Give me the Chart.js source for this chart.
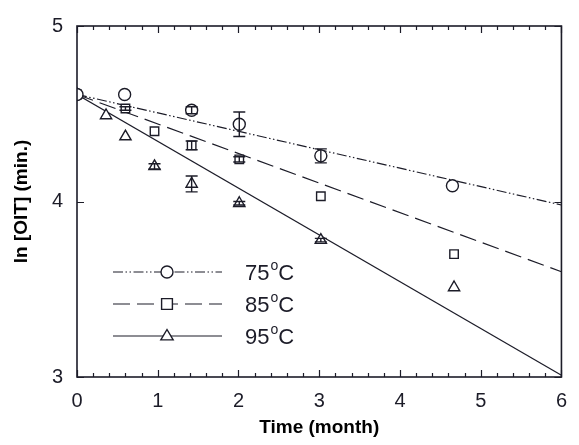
<!DOCTYPE html>
<html>
<head>
<meta charset="utf-8">
<script src="https://cdn.jsdelivr.net/npm/chart.js@4.4.0/dist/chart.umd.min.js"></script>
<style>
  html, body { margin: 0; padding: 0; background: #fff; }
  #wrap { width: 579px; height: 445px; }
</style>
</head>
<body>
<div id="wrap"><canvas id="c"></canvas></div>
<script>
// ln[OIT] vs ageing time, three temperatures, with linear fits.
const t75 = [0, 0.59, 1.42, 2.01, 3.02, 4.65];
const y75 = [4.61, 4.61, 4.52, 4.44, 4.26, 4.09];
const e75 = [0, 0, 0.02, 0.07, 0.04, 0];

const t85 = [0, 0.6, 0.96, 1.42, 2.01, 3.02, 4.67];
const y85 = [4.61, 4.53, 4.40, 4.32, 4.24, 4.03, 3.70];
const e85 = [0, 0.01, 0, 0.025, 0.015, 0, 0];

const t95 = [0, 0.36, 0.6, 0.96, 1.42, 2.01, 3.02, 4.67];
const y95 = [4.61, 4.49, 4.37, 4.20, 4.10, 3.99, 3.78, 3.51];
const e95 = [0, 0, 0, 0.015, 0.045, 0.01, 0.01, 0];

// fitted lines, end points at t = 0 and t = 6
const fitT = [0, 6];
const fit75 = [4.61, 3.98];
const fit85 = [4.61, 3.60];
const fit95 = [4.61, 3.01];

const xTicks = [0, 1, 2, 3, 4, 5, 6];
const yTicks = [3, 4, 5];
const seriesLabels = ['75', '85', '95'];

const INK = '#1c1c28';
const DASH = {
  '75': [10, 2.5, 1.5, 2.5, 1.5, 2.5],
  '85': [17, 7],
  '95': [],
};
const SHAPE = { '75': 'circle', '85': 'rect', '95': 'triangle' };
const RAD = { '75': 6, '85': 6, '95': 6.5 };

const pts = (xs, ys) => xs.map((x, i) => ({ x, y: ys[i] }));

function markerSet(key, xs, ys, errs) {
  return {
    label: key, data: pts(xs, ys), errs, showLine: false, order: 0,
    pointStyle: SHAPE[key], pointRadius: RAD[key], pointHoverRadius: RAD[key],
    pointBorderWidth: 1.4, borderColor: INK, backgroundColor: '#fff',
  };
}
function fitSet(key, ys) {
  return {
    label: key + ' fit', data: pts(fitT, ys), showLine: true, order: 1,
    pointRadius: 0, borderColor: INK, borderWidth: 1.2, borderDash: DASH[key],
  };
}

// box + inward tick marks on all four sides
const framePlugin = {
  id: 'frame',
  afterDatasetsDraw(chart) {
    const { ctx, chartArea: a, scales: { x, y } } = chart;
    ctx.save();
    ctx.strokeStyle = INK;
    ctx.lineWidth = 1.6;
    ctx.strokeRect(a.left, a.top, a.right - a.left, a.bottom - a.top);
    ctx.lineWidth = 1.2;
    ctx.beginPath();
    for (let v = 0; v <= 6.0001; v += 0.2) {
      const px = Math.round(x.getPixelForValue(v)) + 0.5;
      const major = Math.abs(v - Math.round(v)) < 1e-6;
      const len = major ? 7 : 4;
      ctx.moveTo(px, a.bottom); ctx.lineTo(px, a.bottom - len);
      ctx.moveTo(px, a.top); ctx.lineTo(px, a.top + len);
    }
    yTicks.forEach(v => {
      const py = Math.round(y.getPixelForValue(v)) + 0.5;
      ctx.moveTo(a.left, py); ctx.lineTo(a.left + 7, py);
      ctx.moveTo(a.right, py); ctx.lineTo(a.right - 7, py);
    });
    ctx.stroke();
    ctx.restore();
  },
};

// vertical error bars with caps
const errPlugin = {
  id: 'errbars',
  afterDatasetsDraw(chart) {
    const { ctx, scales: { x, y } } = chart;
    ctx.save();
    ctx.strokeStyle = INK;
    ctx.lineWidth = 1.4;
    chart.data.datasets.forEach(ds => {
      if (!ds.errs) return;
      ds.data.forEach((p, i) => {
        const e = ds.errs[i];
        if (!e) return;
        const px = x.getPixelForValue(p.x);
        const top = y.getPixelForValue(p.y + e);
        const bot = y.getPixelForValue(p.y - e);
        ctx.beginPath();
        ctx.moveTo(px, top); ctx.lineTo(px, bot);
        ctx.moveTo(px - 6, top); ctx.lineTo(px + 6, top);
        ctx.moveTo(px - 6, bot); ctx.lineTo(px + 6, bot);
        ctx.stroke();
      });
    });
    ctx.restore();
  },
};

function drawMarker(ctx, shape, cx, cy, r) {
  ctx.beginPath();
  if (shape === 'circle') {
    ctx.arc(cx, cy, r, 0, Math.PI * 2);
  } else if (shape === 'rect') {
    ctx.rect(cx - r * 0.9, cy - r * 0.9, r * 1.8, r * 1.8);
  } else {
    ctx.moveTo(cx, cy - r);
    ctx.lineTo(cx + r * 0.95, cy + r * 0.6);
    ctx.lineTo(cx - r * 0.95, cy + r * 0.6);
    ctx.closePath();
  }
  ctx.fillStyle = '#fff';
  ctx.fill();
  ctx.stroke();
}

// in-plot legend, lower left
const legendPlugin = {
  id: 'inlegend',
  afterDraw(chart) {
    const { ctx, chartArea: a } = chart;
    const x0 = a.left + 36, x1 = a.left + 145, xm = a.left + 90, xt = a.left + 168;
    ctx.save();
    seriesLabels.forEach((key, i) => {
      const yy = a.top + 246 + i * 32;
      ctx.strokeStyle = INK;
      ctx.lineWidth = 1.2;
      ctx.setLineDash(DASH[key]);
      ctx.beginPath();
      ctx.moveTo(x0, yy); ctx.lineTo(x1, yy);
      ctx.stroke();
      ctx.setLineDash([]);
      ctx.lineWidth = 1.4;
      drawMarker(ctx, SHAPE[key], xm, yy, RAD[key]);
      ctx.fillStyle = INK;
      ctx.textBaseline = 'middle';
      ctx.font = '22px "Liberation Sans", Arial, sans-serif';
      ctx.fillText(key, xt, yy + 2);
      let w = ctx.measureText(key).width;
      ctx.font = '14px "Liberation Sans", Arial, sans-serif';
      ctx.fillText('o', xt + w + 1, yy - 6);
      const w2 = ctx.measureText('o').width;
      ctx.font = '22px "Liberation Sans", Arial, sans-serif';
      ctx.fillText('C', xt + w + w2 + 1, yy + 2);
    });
    ctx.restore();
  },
};

new Chart(document.getElementById('c'), {
  type: 'scatter',
  data: {
    datasets: [
      markerSet('75', t75, y75, e75),
      markerSet('85', t85, y85, e85),
      markerSet('95', t95, y95, e95),
      fitSet('75', fit75),
      fitSet('85', fit85),
      fitSet('95', fit95),
    ],
  },
  options: {
    responsive: true,
    maintainAspectRatio: false,
    animation: false,
    layout: { padding: { top: 22, right: 5, left: 0, bottom: 0 } },
    plugins: { legend: { display: false }, tooltip: { enabled: false } },
    scales: {
      x: {
        type: 'linear', min: 0, max: 6,
        afterBuildTicks: s => { s.ticks = xTicks.map(v => ({ value: v })); },
        afterFit: s => { s.height = 68; },
        grid: { display: false, drawTicks: false },
        border: { display: false },
        ticks: { color: INK, padding: 12, font: { family: '"Liberation Sans", Arial', size: 20 } },
        title: { display: true, text: 'Time (month)', color: '#000', padding: { top: 0, bottom: 6 },
          font: { family: '"Liberation Sans", Arial', size: 19, weight: 'bold' } },
      },
      y: {
        type: 'linear', min: 3, max: 5,
        afterBuildTicks: s => { s.ticks = yTicks.map(v => ({ value: v })); },
        afterFit: s => { s.width = 77; },
        grid: { display: false, drawTicks: false },
        border: { display: false },
        ticks: { color: INK, padding: 14, font: { family: '"Liberation Sans", Arial', size: 20 } },
        title: { display: true, text: 'ln [OIT] (min.)', color: '#000', padding: { top: 10, bottom: 0 },
          font: { family: '"Liberation Sans", Arial', size: 19, weight: 'bold' } },
      },
    },
  },
  plugins: [framePlugin, errPlugin, legendPlugin],
});
</script>
</body>
</html>
